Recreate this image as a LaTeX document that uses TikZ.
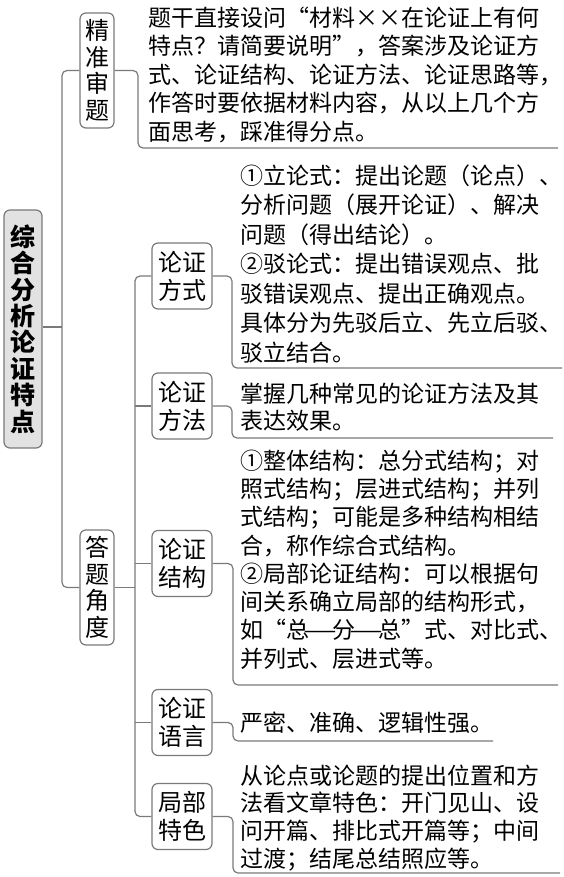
\documentclass[tikz,border=0pt]{standalone}
\usepackage{fontspec}
\newfontfamily\cjk{Noto Sans CJK SC}
\newcommand\fw[1]{\makebox[1em]{#1}}
\newcommand\longdash{\makebox[1em]{\scalebox{1.65}[1]{—}}}
\definecolor{linegray}{HTML}{7A7A7A}
\definecolor{rootfill}{HTML}{E2E2E2}
\begin{document}
\begin{tikzpicture}[x=1pt,y=-1pt,
  link/.style={draw=linegray, line width=1.2pt, rounded corners=5pt},
  catbox/.style={draw=linegray, line width=1.2pt, rounded corners=6pt, inner sep=0pt,
    align=center, font=\cjk\fontsize{24}{26.5}\selectfont},
  subbox/.style={draw=linegray, line width=1.2pt, rounded corners=6pt, inner sep=0pt,
    minimum width=60pt, minimum height=66pt, align=center,
    font=\cjk\fontsize{24}{28}\selectfont},
  body/.style={anchor=north west, inner sep=0pt, align=left,
    font=\cjk\fontsize{23}{28.5}\selectfont}
]
\useasboundingbox (0,0) rectangle (564,877);

% root and first level
\node[catbox, fill=rootfill, minimum width=38pt, minimum height=238pt,
  font=\cjk\bfseries\fontsize{25}{26.4}\selectfont]
  (root) at (23,329) {综\\合\\分\\析\\论\\证\\特\\点};
\node[catbox, minimum width=34pt, minimum height=115pt] (prec) at (97,70.5) {精\\准\\审\\题};
\node[catbox, minimum width=34pt, minimum height=115pt] (angle) at (97,587.5) {答\\题\\角\\度};

% second level
\node[subbox] (fs) at (182,276) {论证\\方式};
\node[subbox] (ff) at (182,406) {论证\\方法};
\node[subbox] (jg) at (182,563.5) {论证\\结构};
\node[subbox] (yy) at (182,722.5) {论证\\语言};
\node[subbox] (ts) at (182,816.5) {局部\\特色};

% trunks
\coordinate (t1) at (62,327);
\coordinate (t2) at (135,587.5);
\draw[link] (root.east |- t1) -- (t1);
\draw[link] (prec.west) -| (t1) |- (angle.west);
\draw[link] (angle.east) -- (t2);
\draw[link] (fs.west) -| (t2) |- (ts.west);
\draw[link] (ff.west) -- (ff.west -| t2);
\draw[link] (jg.west) -- (jg.west -| t2);
\draw[link] (yy.west) -- (yy.west -| t2);

% brackets under the explanation texts
\coordinate (k1) at (138,148);  \coordinate (e1) at (558,148);
\coordinate (k2) at (232,368);  \coordinate (e2) at (562,368);
\coordinate (k3) at (232,438);  \coordinate (e3) at (553,438);
\coordinate (k4) at (233,685);  \coordinate (e4) at (558,685);
\coordinate (k5) at (233,741);  \coordinate (e5) at (493,741);
\coordinate (k6) at (233,873);  \coordinate (e6) at (560,873);
\draw[link] (prec.east) -| (k1) -- (e1);
\draw[link] (fs.east) -| (k2) -- (e2);
\draw[link] (ff.east) -| (k3) -- (e3);
\draw[link] (jg.east) -| (k4) -- (e4);
\draw[link] (yy.east) -| (k5) -- (e5);
\draw[link] (ts.east) -| (k6) -- (e6);

% explanation texts
\node[body] (txt1) at (148,6.5) {题干直接设问\makebox[1em][r]{“}材料\fw{×}\fw{×}在论证上有何\\
特点？请简要说明\makebox[1em][l]{”}，答案涉及论证方\\
式、论证结构、论证方法、论证思路等，\\
作答时要依据材料内容，从以上几个方\\
面思考，踩准得分点。};
\node[body, font=\cjk\fontsize{23}{29.5}\selectfont] (txt2) at (240,164.5) {①立论式：提出论题（论点）、\\
分析问题（展开论证）、解决\\
问题（得出结论）。\\
②驳论式：提出错误观点、批\\
驳错误观点、提出正确观点。\\
具体分为先驳后立、先立后驳、\\
驳立结合。};
\node[body, font=\cjk\fontsize{23}{27}\selectfont] (txt3) at (240,382.5) {掌握几种常见的论证方法及其\\
表达效果。};
\node[body, font=\cjk\fontsize{23}{28.3}\selectfont] (txt4) at (240,449.5) {①整体结构：总分式结构；对\\
照式结构；层进式结构；并列\\
式结构；可能是多种结构相结\\
合，称作综合式结构。\\
②局部论证结构：可以根据句\\
间关系确立局部的结构形式，\\
如\makebox[1em][r]{“}总\longdash 分\longdash 总\makebox[1em][l]{”}式、对比式、\\
并列式、层进式等。};
\node[body] (txt5) at (240,711.5) {严密、准确、逻辑性强。};
\node[body, font=\cjk\fontsize{23}{27.8}\selectfont] (txt6) at (240,764.5) {从论点或论题的提出位置和方\\
法看文章特色：开门见山、设\\
问开篇、排比式开篇等；中间\\
过渡；结尾总结照应等。};
\end{tikzpicture}
\end{document}
